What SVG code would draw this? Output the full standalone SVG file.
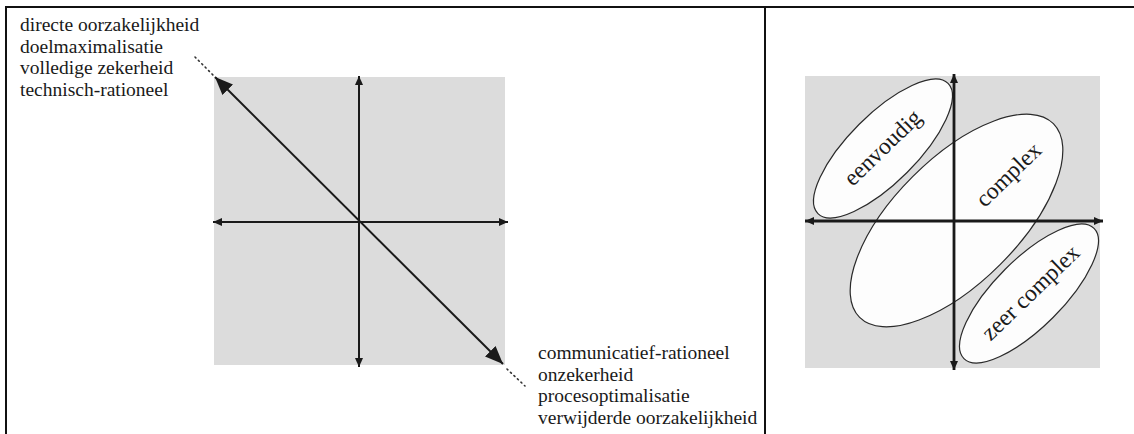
<svg xmlns="http://www.w3.org/2000/svg" width="1134" height="434" viewBox="0 0 1134 434">
  <style>
    .frame { stroke: #111; stroke-width: 2; fill: none; }
    .field { fill: #dcdcdc; }
    .axis { stroke: #1a1a1a; stroke-width: 2; fill: none; }
    .axis-r { stroke: #1a1a1a; stroke-width: 2.8; fill: none; }
    .diag { stroke: #1a1a1a; stroke-width: 2; fill: none; }
    .dots { stroke: #333; stroke-width: 1.6; stroke-dasharray: 1.2 3.6; stroke-linecap: round; fill: none; }
    .label { font-family: "Liberation Serif", "Times New Roman", serif; font-size: 19.5px; fill: #1a1a1a; }
    .blob { fill: #fdfdfd; stroke: #2a2a2a; stroke-width: 1.2; }
    .blob-label { font-family: "Liberation Serif", "Times New Roman", serif; font-size: 23.5px; fill: #1a1a1a; text-anchor: middle; }
  </style>
  <defs>
    <marker id="tip" markerUnits="userSpaceOnUse" markerWidth="10" markerHeight="8" refX="9" refY="4" orient="auto-start-reverse">
      <path d="M0,0 L9,4 L0,8 z" fill="#1a1a1a"/>
    </marker>
    <marker id="tip-big" markerUnits="userSpaceOnUse" markerWidth="19" markerHeight="15" refX="18" refY="7.5" orient="auto-start-reverse">
      <path d="M0,0 L18,7.5 L0,15 z" fill="#1a1a1a"/>
    </marker>
  </defs>

  <!-- outer frame and panel divider -->
  <g id="frame">
    <line class="frame" x1="6" y1="7" x2="1134" y2="7"/>
    <line class="frame" x1="6" y1="6" x2="6" y2="434"/>
    <line class="frame" x1="765" y1="7" x2="765" y2="434"/>
  </g>

  <!-- grey fields behind both plots -->
  <g id="left-field">
    <rect class="field" x="214" y="77" width="291" height="288"/>
  </g>
  <g id="right-field">
    <rect class="field" x="805" y="76" width="295" height="292"/>
  </g>

  <g id="label-top">
    <text class="label" x="20" y="31">directe oorzakelijkheid</text>
    <text class="label" x="20" y="52.5">doelmaximalisatie</text>
    <text class="label" x="20" y="74">volledige zekerheid</text>
    <text class="label" x="20" y="95.5">technisch-rationeel</text>
  </g>

  <g id="label-bottom">
    <text class="label" x="538" y="359">communicatief-rationeel</text>
    <text class="label" x="538" y="380.5">onzekerheid</text>
    <text class="label" x="538" y="402">procesoptimalisatie</text>
    <text class="label" x="538" y="423.5">verwijderde oorzakelijkheid</text>
  </g>

  <!-- three overlapping regions along the diagonal -->
  <g id="eenvoudig">
    <ellipse class="blob" cx="883" cy="148.5" rx="92" ry="34" transform="rotate(-45 883 148.5)"/>
    <text class="blob-label" transform="translate(883 148) rotate(-44)" y="7">eenvoudig</text>
  </g>

  <g id="complex">
    <ellipse class="blob" cx="956.5" cy="220.5" rx="137" ry="62" transform="rotate(-45 956.5 220.5)"/>
    <text class="blob-label" transform="translate(1009 175) rotate(-44)" y="7">complex</text>
  </g>

  <g id="zeer-complex">
    <ellipse class="blob" cx="1029" cy="293.5" rx="92" ry="34" transform="rotate(-45 1029 293.5)"/>
    <text class="blob-label" transform="translate(1031 293) rotate(-44)" y="7">zeer complex</text>
  </g>

  <!-- axes, diagonal and dotted extensions, drawn over the fields and regions -->
  <g id="connectors">
    <line class="axis" x1="359" y1="76" x2="359" y2="367" marker-start="url(#tip)" marker-end="url(#tip)"/>
    <line class="axis" x1="213" y1="222" x2="508" y2="222" marker-start="url(#tip)" marker-end="url(#tip)"/>
    <line class="diag" x1="215" y1="77" x2="503" y2="364" marker-start="url(#tip-big)" marker-end="url(#tip-big)"/>
    <line class="dots" x1="195" y1="57" x2="213" y2="75"/>
    <line class="dots" x1="507" y1="369" x2="525" y2="386"/>
    <line class="axis-r" x1="954" y1="74" x2="954" y2="370" marker-start="url(#tip)" marker-end="url(#tip)"/>
    <line class="axis-r" x1="805" y1="221" x2="1103" y2="221" marker-start="url(#tip)" marker-end="url(#tip)"/>
  </g>
</svg>
